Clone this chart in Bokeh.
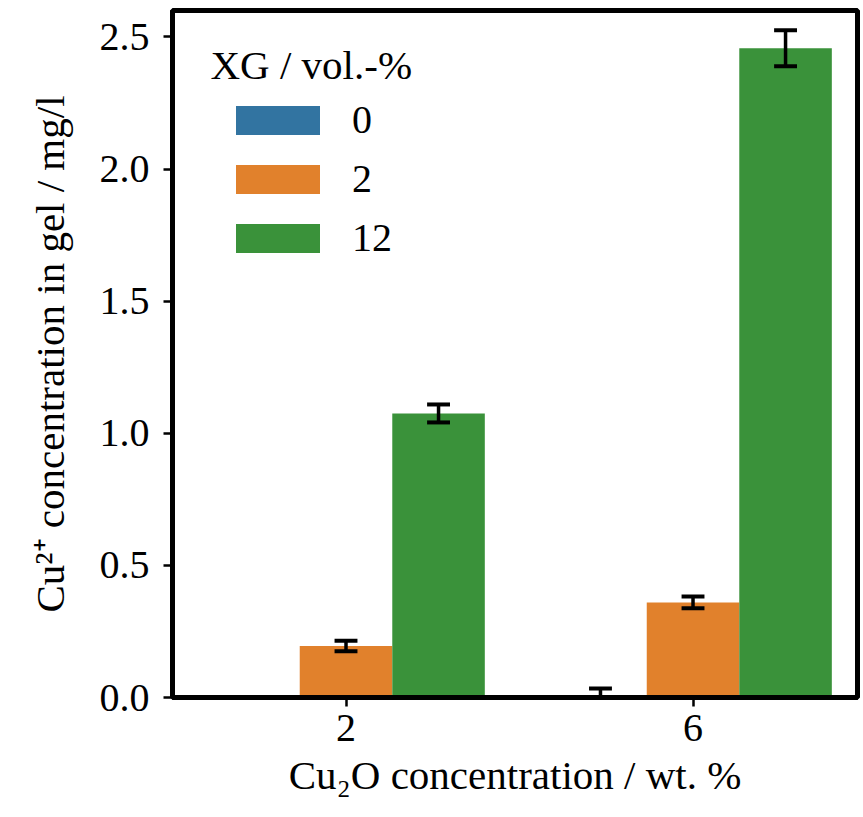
from bokeh.plotting import figure
from bokeh.models import FixedTicker, Range1d, Legend, LegendItem, Label
from bokeh.embed import file_html
from bokeh.resources import INLINE

# ---- data ----
cu2o_conc = ["2", "6"]            # x categories (wt. %)
xg_levels = ["0", "2", "12"]      # hue levels (vol.-%)
cu_xg0 = [0.0, 0.005]
cu_xg2 = [0.195, 0.36]
cu_xg12 = [1.075, 2.457]
err_xg0 = [0.0, 0.029]
err_xg2 = [0.02, 0.022]
err_xg12 = [0.034, 0.068]
y_ticks = [0.0, 0.5, 1.0, 1.5, 2.0, 2.5]

series = [cu_xg0, cu_xg2, cu_xg12]
errors = [err_xg0, err_xg2, err_xg12]
colors = ["#3274A1", "#E1812C", "#3A923A"]

FONT = "Liberation Serif"
bar_w = 0.8 / len(xg_levels)
cap_w = 0.066

p = figure(width=863, height=817, output_backend="svg", toolbar_location=None,
           x_range=Range1d(-0.5, 1.474), y_range=Range1d(0, 2.6),
           min_border_left=172, min_border_right=6, min_border_top=10, min_border_bottom=120)
p.background_fill_color = "white"
p.border_fill_color = "white"
p.xgrid.visible = False
p.ygrid.visible = False
p.outline_line_color = "black"
p.outline_line_width = 5
p.outline_line_alpha = 1

items = []
for i, (vals, errs, col, lab) in enumerate(zip(series, errors, colors, xg_levels)):
    off = (i - (len(xg_levels) - 1) / 2) * bar_w
    xs = [g + off for g in range(len(cu2o_conc))]
    r = p.vbar(x=xs, top=vals, width=bar_w, fill_color=col, line_color=None)
    items.append(LegendItem(label=lab, renderers=[r]))
    ex = [x for x, e in zip(xs, errs) if e > 0]
    lo = [v - e for v, e in zip(vals, errs) if e > 0]
    hi = [v + e for v, e in zip(vals, errs) if e > 0]
    if ex:
        p.segment(x0=ex, y0=lo, x1=ex, y1=hi, line_color="black", line_width=3.5)
        p.segment(x0=[x - cap_w / 2 for x in ex], y0=hi, x1=[x + cap_w / 2 for x in ex], y1=hi,
                  line_color="black", line_width=4)
        p.segment(x0=[x - cap_w / 2 for x in ex], y0=lo, x1=[x + cap_w / 2 for x in ex], y1=lo,
                  line_color="black", line_width=4)

# axes
p.xaxis.ticker = FixedTicker(ticks=list(range(len(cu2o_conc))))
p.xaxis.major_label_overrides = {i: c for i, c in enumerate(cu2o_conc)}
p.yaxis.ticker = FixedTicker(ticks=y_ticks)
p.yaxis.major_label_overrides = {t: f"{t:.1f}" for t in y_ticks}
for ax in (p.xaxis, p.yaxis):
    ax.axis_line_color = "black"
    ax.axis_line_width = 5
    ax.major_tick_line_color = "black"
    ax.major_tick_line_width = 2.5
    ax.major_tick_out = 9
    ax.major_tick_in = 0
    ax.minor_tick_line_color = None
    ax.major_label_text_font = FONT
    ax.major_label_text_font_size = "40px"
    ax.major_label_text_color = "black"
    ax.axis_label_text_font = FONT
    ax.axis_label_text_font_size = "41px"
    ax.axis_label_text_font_style = "normal"
    ax.axis_label_text_color = "black"
p.xaxis.axis_label = "Cu\u2082O concentration / wt. %"
p.yaxis.axis_label = "Cu\u00b2\u207a concentration in gel / mg/l"
p.xaxis.major_label_standoff = 8
p.yaxis.major_label_standoff = 14
p.xaxis.axis_label_standoff = 8
p.yaxis.axis_label_standoff = 24

legend = Legend(items=items, location=(53, 436), orientation="vertical",
                glyph_width=105, glyph_height=36, label_standoff=22,
                label_height=44, spacing=12, padding=0, margin=0,
                label_text_font=FONT, label_text_font_size="40px",
                label_text_color="black",
                border_line_color=None, background_fill_alpha=0)
p.add_layout(legend)

title = Label(x=38, y=633, x_units="screen", y_units="screen", text="XG / vol.-%",
              text_font=FONT, text_font_size="41px", text_color="black",
              text_baseline="alphabetic", text_align="left")
p.add_layout(title)

open("out.html", "w").write(file_html(p, INLINE))
